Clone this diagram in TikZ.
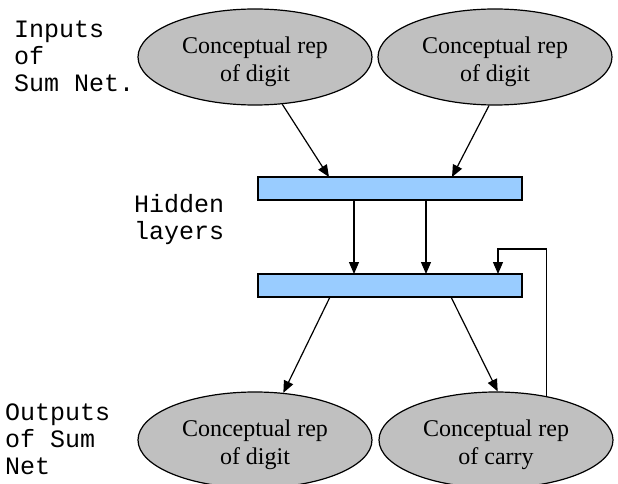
\documentclass[tikz,border=0pt]{standalone}
\usepackage{fontspec}
\setmainfont{Liberation Serif}
\newfontfamily\monof{Liberation Mono}
\usetikzlibrary{shapes.geometric,arrows.meta}
\definecolor{ellgray}{HTML}{C0C0C0}
\definecolor{barblue}{HTML}{99CCFF}
\tikzset{
  concept/.style={ellipse, draw=black, line width=1.2pt, fill=ellgray,
    minimum width=234pt, minimum height=96pt, inner sep=0pt, align=center,
    font=\fontsize{24}{27.5}\selectfont},
  layerbar/.style={rectangle, draw=black, line width=1.2pt, fill=barblue,
    minimum width=264pt, minimum height=23pt, inner sep=0pt},
  arr/.style={line width=1.2pt, -{Triangle[length=12pt,width=10pt]}},
  lbl/.style={anchor=base west, inner sep=0pt, align=left,
    font=\monof\fontsize{25}{27}\selectfont}
}
\newcommand{\uppad}{\rule{0pt}{26pt}}
\begin{document}
\begin{tikzpicture}[x=1pt,y=-1pt]
\useasboundingbox (0,0) rectangle (618,484);
% nodes
\node[concept] (tl) at (255,57) {\uppad Conceptual rep\\of digit};
\node[concept] (tr) at (495,57) {\uppad Conceptual rep\\of digit};
\node[layerbar] (h1) at (390,188.5) {};
\node[layerbar] (h2) at (390,285.5) {};
\node[concept] (bl) at (255,440) {\uppad Conceptual rep\\of digit};
\node[concept] (br) at (496,440) {\uppad Conceptual rep\\of carry};
% labels
\node[lbl] (lin) at (14,92) {Inputs\\of\\Sum Net.};
\node[lbl] (lhid) at (134,239) {Hidden\\layers};
\node[lbl] (lout) at (5,474) {Outputs\\of Sum\\Net};
% attachment points
\coordinate (h1a) at (329,177);
\coordinate (h1b) at (452,177);
\coordinate (h1c) at (354,200);
\coordinate (h1d) at (426,200);
\coordinate (h2a) at (354,274);
\coordinate (h2b) at (426,274);
\coordinate (h2c) at (498,274);
\coordinate (h2d) at (330,297);
\coordinate (h2e) at (451,297);
\coordinate (fb) at (498,249);
% connectors
\draw[arr] (tl.-60) -- (h1a);
\draw[arr] (tr.-97) -- (h1b);
\draw[arr] (h1c) -- (h2a);
\draw[arr] (h1d) -- (h2b);
\draw[arr] (h2d) -- (bl.59);
\draw[arr] (h2e) -- (br.88);
\draw[arr] (br.41) |- (fb) -- (h2c);
\end{tikzpicture}
\end{document}
